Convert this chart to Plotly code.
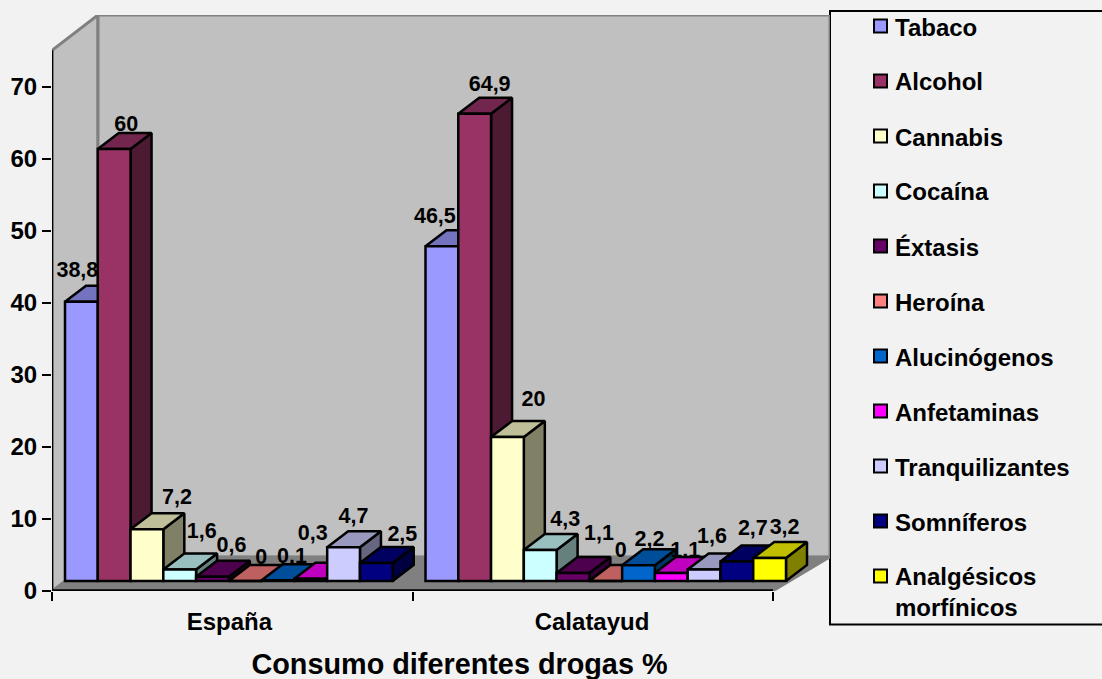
import plotly.graph_objects as go

# Survey shares (%) by drug and location; None means no bar for that location.
locations = ["España", "Calatayud"]
drugs = ["Tabaco", "Alcohol", "Cannabis", "Cocaína", "Éxtasis", "Heroína", "Alucinógenos",
         "Anfetaminas", "Tranquilizantes", "Somníferos", "Analgésicos<br>morfínicos"]
espana = [38.8, 60, 7.2, 1.6, 0.6, 0, 0.1, 0.3, 4.7, 2.5, None]
calatayud = [46.5, 64.9, 20, 4.3, 1.1, 0, 2.2, 1.1, 1.6, 2.7, 3.2]

front_colors = ["#9999FF", "#993366", "#FFFFCC", "#CCFFFF", "#660066", "#FF8080",
                "#0066CC", "#FF00FF", "#CCCCFF", "#000080", "#FFFF00"]
top_colors = ["#7373BF", "#73264D", "#BFBF99", "#99BFBF", "#4D004D", "#BF6060",
              "#004D99", "#BF00BF", "#9999BF", "#000060", "#BFBF00"]
side_colors = ["#4D4D80", "#4D1A33", "#808066", "#668080", "#330033", "#804040",
               "#003366", "#800080", "#666680", "#000040", "#808000"]

# Hand-placed value labels: pixel nudges from the bar's front-top-centre point.
label_nudge_espana = [(-4, -30), (12, -23), (30, -31), (22, -37), (19, -30), (16, -22), (14, -23),
                      (2, -44), (10, -30), (26, -27), None]
label_nudge_calatayud = [(-7, -29), (15, -28), (26, -36), (25, -29), (26, -38), (15, -29), (11, -25),
                         (14, -21), (8, -32), (16, -32), (15, -29)]

PLOT_L, PLOT_R, PLOT_T, PLOT_B = 52, 830, 15, 591
PX_PER_CAT = 360.5
PX_PER_UNIT = 7.2
X_MAX = (PLOT_R - PLOT_L) / PX_PER_CAT
Y_MAX = (PLOT_B - PLOT_T) / PX_PER_UNIT

BAR_W = 1 / 11
BAR_START = 13 / PX_PER_CAT
BASE = 10 / PX_PER_UNIT
DEPTH_X = 21 / PX_PER_CAT
DEPTH_Y = 16 / PX_PER_UNIT
WALL_X = 46 / PX_PER_CAT
WALL_Y = 34 / PX_PER_UNIT

# Key panel: first row, row pitch, swatch centre and half-size, text column, in pixels
KEY_TOP, KEY_PITCH, KEY_X, KEY_HALF, KEY_TEXT_X = 26, 55, 880.5, 6.5, 893

FONT = "Liberation Sans, Arial, sans-serif"
OUTLINE = 2.5


def paper_x(px):
    return (px - PLOT_L) / (PLOT_R - PLOT_L)


def paper_y(px):
    return (PLOT_B - px) / (PLOT_B - PLOT_T)


def poly(x, y, fill, line=None, width=OUTLINE, z=-10):
    return go.Scatter(x=x, y=y, mode="lines", fill="toself", fillcolor=fill,
                      line=dict(color=line or fill, width=width), hoverinfo="skip",
                      showlegend=False, cliponaxis=False, zorder=z)


fig = go.Figure()

# Walls and floor of the box
fig.add_trace(poly([0, WALL_X, WALL_X, 0, 0], [0, WALL_Y, Y_MAX, 75.1, 0], "#C0C0C0", "#808080", 3))
fig.add_trace(poly([WALL_X, X_MAX, X_MAX, WALL_X, WALL_X], [WALL_Y, WALL_Y, Y_MAX, Y_MAX, WALL_Y],
                   "#C0C0C0", "#808080", 3))
fig.add_trace(poly([0, WALL_X, X_MAX, 2, 0], [0, WALL_Y, WALL_Y, 0, 0], "#808080", "#808080"))

# Axis lines sit on the front edges of the box
fig.add_trace(go.Scatter(x=[0, 0], y=[75.1, 0], mode="lines",
                         line=dict(color="black", width=2.5), hoverinfo="skip",
                         showlegend=False, cliponaxis=False, zorder=-5))
fig.add_trace(go.Scatter(x=[0, 2], y=[0, 0], mode="lines",
                         line=dict(color="black", width=3.5), hoverinfo="skip",
                         showlegend=False, cliponaxis=False, zorder=-5))

key_labels = []
key_shapes = [dict(type="rect", xref="paper", yref="paper", layer="below",
                   x0=1, x1=paper_x(1104), y0=paper_y(624.5), y1=paper_y(11),
                   line=dict(color="black", width=2))]
for i, drug in enumerate(drugs):
    values = [espana[i], calatayud[i]]
    nudges = [label_nudge_espana[i], label_nudge_calatayud[i]]
    z = 10 + 4 * i

    side_x, side_y, top_x, top_y = [], [], [], []
    label_x, label_y, label_text = [], [], []
    bar_x = []
    for c, v in enumerate(values):
        x0 = c + BAR_START + i * BAR_W
        x1 = x0 + BAR_W
        bar_x.append((x0 + x1) / 2)
        if v is None:
            continue
        t = BASE + v
        side_x += [x1, x1 + DEPTH_X, x1 + DEPTH_X, x1, x1, None]
        side_y += [BASE, BASE + DEPTH_Y, t + DEPTH_Y, t, BASE, None]
        top_x += [x0, x1, x1 + DEPTH_X, x0 + DEPTH_X, x0, None]
        top_y += [t, t, t + DEPTH_Y, t + DEPTH_Y, t, None]
        dx, dy = nudges[c]
        label_x.append((x0 + x1) / 2 + dx / PX_PER_CAT)
        label_y.append(t - dy / PX_PER_UNIT)
        label_text.append(f"{v:g}".replace(".", ","))

    # Each label sits behind its own bar and every later bar
    fig.add_trace(go.Scatter(x=label_x, y=label_y, text=label_text, mode="text",
                             textposition="middle center",
                             textfont=dict(family=FONT, size=21.5, color="black", weight="bold"),
                             hoverinfo="skip", showlegend=False, cliponaxis=False, zorder=z))
    fig.add_trace(poly(side_x, side_y, side_colors[i], "black", z=z + 1))
    fig.add_trace(poly(top_x, top_y, top_colors[i], "black", z=z + 1))
    fig.add_trace(go.Bar(x=bar_x, y=values, base=BASE, width=BAR_W, name=drug,
                         marker=dict(color=front_colors[i], line=dict(color="black", width=OUTLINE)),
                         showlegend=False, cliponaxis=False, zorder=z + 2))

    # Key row: square swatch plus its name (two-line names hang from the swatch's row)
    row_y = KEY_TOP + i * KEY_PITCH
    key_shapes.append(dict(type="rect", xref="paper", yref="paper", layer="above",
                           x0=paper_x(KEY_X - KEY_HALF), x1=paper_x(KEY_X + KEY_HALF),
                           y0=paper_y(row_y + KEY_HALF), y1=paper_y(row_y - KEY_HALF),
                           fillcolor=front_colors[i], line=dict(color="black", width=2)))
    lines = drug.count("<br>") + 1
    key_labels.append(dict(text=drug, xref="paper", yref="paper", showarrow=False, align="left",
                           x=paper_x(KEY_TEXT_X), y=paper_y(row_y + 1 + (lines - 1) * 15),
                           xanchor="left", yanchor="middle",
                           font=dict(family=FONT, size=24, color="black", weight="bold")))

fig.update_layout(
    width=1102, height=679,
    margin=dict(l=PLOT_L, r=1102 - PLOT_R, t=PLOT_T, b=679 - PLOT_B, autoexpand=False),
    paper_bgcolor="#F2F2F2", plot_bgcolor="rgba(0,0,0,0)",
    barmode="overlay",
    showlegend=False,
    annotations=key_labels,
    title=dict(text="Consumo diferentes drogas %", xref="container", yref="container",
               x=459.5 / 1102, y=1 - 663.5 / 679, xanchor="center", yanchor="middle",
               font=dict(family=FONT, size=28.8, color="black", weight="bold")),
    xaxis=dict(range=[0, X_MAX], tickmode="array", tickvals=[0.492, 1.498], ticktext=locations,
               ticks="", showgrid=False, zeroline=False, showline=False, ticklabelstandoff=14,
               tickfont=dict(family=FONT, size=24, color="black", weight="bold"),
               minor=dict(tickmode="array", tickvals=[0, 1, 2], ticks="outside", ticklen=9,
                          tickwidth=2, tickcolor="black", showgrid=False)),
    yaxis=dict(range=[0, Y_MAX], tickmode="array", tickvals=list(range(0, 80, 10)),
               ticks="outside", ticklen=9, tickwidth=2, tickcolor="black", showgrid=False,
               zeroline=False, showline=False,
               tickfont=dict(family=FONT, size=24, color="black", weight="bold")),
    shapes=key_shapes,
)

fig.write_html("out.html")
